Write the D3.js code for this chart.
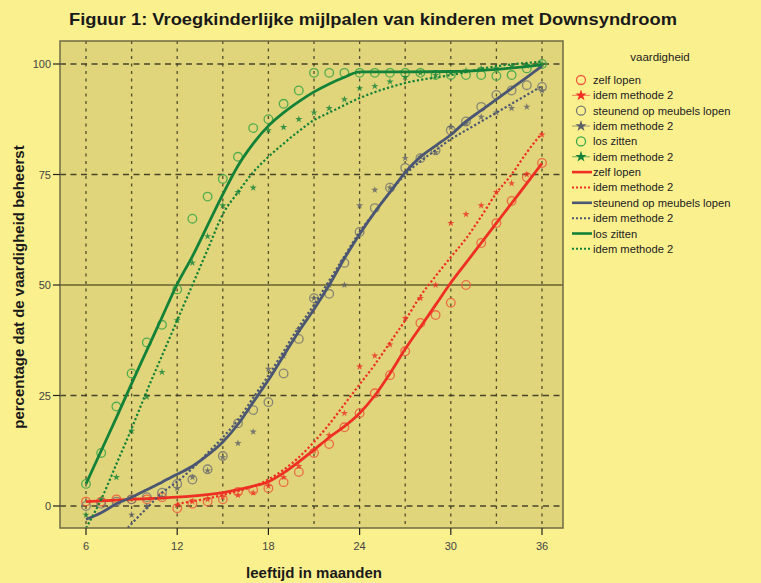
<!DOCTYPE html>
<html><head><meta charset="utf-8">
<script src="https://cdn.jsdelivr.net/npm/d3@7"></script>
<style>
html,body{margin:0;padding:0;background:#fbf08e;}
svg{display:block;font-family:"Liberation Sans",Arial,sans-serif;}
</style></head>
<body>
<svg id="c" width="761" height="583"></svg>
<script>
// ---------- data ----------
const title = "Figuur 1: Vroegkinderlijke mijlpalen van kinderen met Downsyndroom";
const xLabel = "leeftijd in maanden";
const yLabel = "percentage dat de vaardigheid beheerst";
const xTicks = [6, 12, 18, 24, 30, 36];
const xGrid = [6, 9, 12, 15, 18, 21, 24, 27, 30, 33, 36];
const yTicks = [0, 25, 50, 75, 100];

const monthsAll = [6,7,8,9,10,11,12,13,14,15,16,17,18,19,20,21,22,23,24,25,26,27,28,29,30,31,32,33,34,35,36];

// observed points (circles = method 1, stars = method 2)
const zelfLopen     = [1,1,1.5,1.5,1.5,2,-0.5,0.5,1,1.5,3.2,3.6,4,5.4,7.7,12,14,17.8,21,25.5,29.6,35,41.4,43.2,46,50,59.5,64,69,74.4,77.6];
const zelfLopen2M   = [12,13,14,15,16,17,18,19,20,21,22,23,24,25,26,27,28,29,30,31,32,33,34,35,36];
const zelfLopen2    = [0.2,1,1.5,2,2.5,3,4.5,6.5,9,12.5,16,21,31.5,34,36.5,42.5,47,50,64,66,68,71,73,75,84];
const meubels       = [0,0.5,1,1.5,2,3,5,6,8.3,11.3,18.7,21.7,23.5,30,37.8,47,48,55,62,67.4,72,76.5,78.7,80.5,85,87,90.3,93,94,95.2,94.8];
const meubels2M     = [9,10,11,12,13,14,15,16,17,18,19,20,21,22,23,24,25,26,27,28,29,30,31,32,33,34,35,36];
const meubels2      = [-2,0,2,4,6.5,8,11,14.2,16.8,31,34,40,47,50,50,68,71.5,72,78.7,79,80,85.7,86.6,88,89,90,90.3,94];
const losZitten     = [5,12,22.5,30,37,41,49,65,70,74,79,85.5,87.5,91,94,98,98,98,98,98,98,98,98,97.5,97.5,97.5,97.5,97.3,97.5,99,100];
const losZitten2    = [-2,1.5,6.5,17,24.7,30.3,42,55,61,68,71,72,85,85.7,87.5,89,90,92,94.5,95,96,97,98,97.5,98,98.5,99,99,99.5,99.6,100];

// fitted curves
const fitZelfM   = [6,9,12,15,16,17,18,19,20,21,22,23,24,25,26,27,28,29,30,31,32,33,34,35,36];
const fitZelf    = [1,1.5,2,3,3.7,4.5,5.5,7.5,10,12.7,15.5,18,21,25,30,35.5,40.5,45.5,50.5,55,59.5,64,68.5,73,77.5];
const fitZelf2M  = [12,15,18,20,21,22,23,24,25,26,27,28,29,30,31,32,33,34,35,36];
const fitZelf2   = [0.5,2.5,6,11,14.5,18.5,23,27.5,32,37,42,47.5,52,56.3,60.5,65.5,70.8,75,80,84.4];
const fitMeubM   = [6,7,8,9,10,11,12,13,14,15,16,17,18,19,20,21,22,23,24,25,26,27,28,29,30,31,32,33,34,35,36];
const fitMeub    = [-3,-1.5,0.5,2,3.7,5.4,7.2,9,11.5,14.5,18.5,23.5,28.5,34,39.5,44.5,50,56,61.5,66.5,71,75.5,79,81.5,84,87,89.5,92,94.5,97,99.5];
const fitMeub2M  = [8,9,10,11,12,13,14,15,16,17,18,19,20,21,22,23,24,25,26,27,28,29,30,31,32,33,34,35,36];
const fitMeub2   = [-8,-4,-0.5,3,5.5,8.5,12,15.5,19.5,24.5,29.5,35,40.5,45.5,51,56.5,62,66.5,71,75,78,80.5,83,85,87,89,91,93,95];
const fitLosM    = [6,7,8,9,10,11,12,13,14,15,16,17,18,19,20,21,22,23,24,27,30,33,36];
const fitLos     = [5,12.5,20,27.7,35.2,42.7,50.2,56.5,63.5,70.5,77,82,86,89,91.5,93.7,95.5,97,98.2,98.2,98.3,98.8,99.8];
const fitLos2M   = [6,7,8,9,10,11,12,13,14,15,16,17,18,19,20,21,22,24,27,30,33,36];
const fitLos2    = [-5,1.5,9.5,17.5,26,34,42,50,58,66,71,75.5,79,82,84.8,87.3,89,92.3,95.7,97.5,99.5,100.5];

const legendTitle = "vaardigheid";
const legendLabels = ["zelf lopen","idem methode 2","steunend op meubels lopen","idem methode 2","los zitten","idem methode 2",
                      "zelf lopen","idem methode 2","steunend op meubels lopen","idem methode 2","los zitten","idem methode 2"];

// ---------- styles ----------
const RED = "#ee2f24", REDPT = "#ec5a3c";
const GRAYLINE = "#4b5673", GRAYPT = "#777873", GRAYSTAR = "#5d6068";
const GREEN = "#138238", GREENPT = "#3aa547";

const svg = d3.select("#c");
const x = d3.scaleLinear().domain([6, 36]).range([86, 542]);
const y = d3.scaleLinear().domain([0, 100]).range([506, 64]);
const L = 60, R = 563, T = 41, B = 528;

// plot background
svg.append("rect").attr("x", L).attr("y", T).attr("width", R - L).attr("height", B - T).attr("fill", "#e0d57a");

svg.append("defs").append("clipPath").attr("id", "clip")
  .append("rect").attr("x", L).attr("y", T).attr("width", R - L).attr("height", B - T);

const g = svg.append("g").attr("clip-path", "url(#clip)");

// grid
g.selectAll("line.vg").data(xGrid).join("line")
  .attr("x1", d => x(d)).attr("x2", d => x(d)).attr("y1", T).attr("y2", B)
  .attr("stroke", "#2e2c1c").attr("stroke-width", 1.3).attr("stroke-dasharray", "3,4.5").attr("opacity", 0.8);
g.selectAll("line.hg").data(yTicks.filter(d => d !== 50)).join("line")
  .attr("x1", L).attr("x2", R).attr("y1", d => y(d)).attr("y2", d => y(d))
  .attr("stroke", "#2e2c1c").attr("stroke-width", 1.4).attr("stroke-dasharray", "6,4.5").attr("opacity", 0.85);
g.append("line").attr("x1", L).attr("x2", R).attr("y1", y(50)).attr("y2", y(50))
  .attr("stroke", "#6a6230").attr("stroke-width", 1.6);

// points
function circles(ms, vs, color) {
  g.append("g").selectAll("circle").data(vs).join("circle")
    .attr("cx", (d, i) => x(ms[i])).attr("cy", d => y(d)).attr("r", 4.3)
    .attr("fill", "none").attr("stroke", color).attr("stroke-width", 1.3).attr("opacity", 0.85);
}
const star = d3.symbol().type(d3.symbolStar).size(16);
function stars(ms, vs, color) {
  g.append("g").selectAll("path").data(vs).join("path")
    .attr("transform", (d, i) => `translate(${x(ms[i])},${y(d)})`)
    .attr("d", star).attr("fill", color).attr("opacity", 0.8);
}
circles(monthsAll, zelfLopen, REDPT);
stars(zelfLopen2M, zelfLopen2, RED);
circles(monthsAll, meubels, GRAYPT);
stars(meubels2M, meubels2, GRAYSTAR);
circles(monthsAll, losZitten, GREENPT);
stars(monthsAll, losZitten2, GREEN);

// fitted lines
const line = d3.line().curve(d3.curveMonotoneX);
function fit(ms, vs, color, dotted) {
  g.append("path").attr("d", line(ms.map((m, i) => [x(m), y(vs[i])])))
    .attr("fill", "none").attr("stroke", color)
    .attr("stroke-width", dotted ? 2.2 : 2.8)
    .attr("stroke-dasharray", dotted ? "2.2,2.2" : null);
}
fit(fitZelfM, fitZelf, RED, false);
fit(fitZelf2M, fitZelf2, RED, true);
fit(fitMeubM, fitMeub, GRAYLINE, false);
fit(fitMeub2M, fitMeub2, GRAYLINE, true);
fit(fitLosM, fitLos, GREEN, false);
fit(fitLos2M, fitLos2, GREEN, true);

// frame
svg.append("rect").attr("x", L).attr("y", T).attr("width", R - L).attr("height", B - T)
  .attr("fill", "none").attr("stroke", "#6f6b45").attr("stroke-width", 1.5);

// axes ticks
svg.selectAll("line.yt").data(yTicks).join("line")
  .attr("x1", 53).attr("x2", L).attr("y1", d => y(d)).attr("y2", d => y(d))
  .attr("stroke", "#222").attr("stroke-width", 1.2);
svg.selectAll("text.yl").data(yTicks).join("text")
  .attr("x", 51).attr("y", d => y(d) + 4).attr("text-anchor", "end")
  .attr("font-size", 11).attr("fill", "#444").text(d => d);
svg.selectAll("line.xt").data(xTicks).join("line")
  .attr("x1", d => x(d)).attr("x2", d => x(d)).attr("y1", B).attr("y2", B + 7)
  .attr("stroke", "#222").attr("stroke-width", 1.2);
svg.selectAll("text.xl").data(xTicks).join("text")
  .attr("x", d => x(d)).attr("y", B + 22).attr("text-anchor", "middle")
  .attr("font-size", 11).attr("fill", "#444").text(d => d);

// labels
svg.append("text").attr("x", 373).attr("y", 25).attr("text-anchor", "middle")
  .attr("font-size", 17).attr("font-weight", "bold").attr("fill", "#1a1a1a")
  .attr("textLength", 608).attr("lengthAdjust", "spacingAndGlyphs").text(title);
svg.append("text").attr("x", 314).attr("y", 578).attr("text-anchor", "middle")
  .attr("font-size", 15).attr("font-weight", "bold").attr("fill", "#1a1a1a").text(xLabel);
svg.append("text").attr("transform", "translate(24,287) rotate(-90)").attr("text-anchor", "middle")
  .attr("font-size", 15).attr("font-weight", "bold").attr("fill", "#1a1a1a").text(yLabel);

// legend
const lg = svg.append("g");
lg.append("text").attr("x", 660).attr("y", 61).attr("text-anchor", "middle")
  .attr("font-size", 11.5).attr("fill", "#222").text(legendTitle);
const legendColors = [REDPT, RED, GRAYPT, GRAYSTAR, GREENPT, GREEN, RED, RED, GRAYLINE, GRAYLINE, GREEN, GREEN];
const legendKinds = ["c","s","c","s","c","s","l","d","l","d","l","d"];
legendLabels.forEach((lab, i) => {
  const yy = 80 + i * 15.35;
  const k = legendKinds[i], col = legendColors[i];
  if (k === "c") {
    lg.append("circle").attr("cx", 581).attr("cy", yy).attr("r", 4.5).attr("fill", "none")
      .attr("stroke", col).attr("stroke-width", 1.3);
  } else if (k === "s") {
    lg.append("line").attr("x1", 572).attr("x2", 590).attr("y1", yy).attr("y2", yy)
      .attr("stroke", col).attr("stroke-width", 1).attr("opacity", 0.6);
    lg.append("path").attr("transform", `translate(581,${yy})`)
      .attr("d", d3.symbol().type(d3.symbolStar).size(40)).attr("fill", col);
  } else {
    lg.append("line").attr("x1", 572).attr("x2", 592).attr("y1", yy).attr("y2", yy)
      .attr("stroke", col).attr("stroke-width", k === "l" ? 2.6 : 2)
      .attr("stroke-dasharray", k === "d" ? "2,2" : null);
  }
  lg.append("text").attr("x", 593).attr("y", yy + 4).attr("font-size", 11.2)
    .attr("fill", "#222").text(lab);
});
</script>
</body></html>
